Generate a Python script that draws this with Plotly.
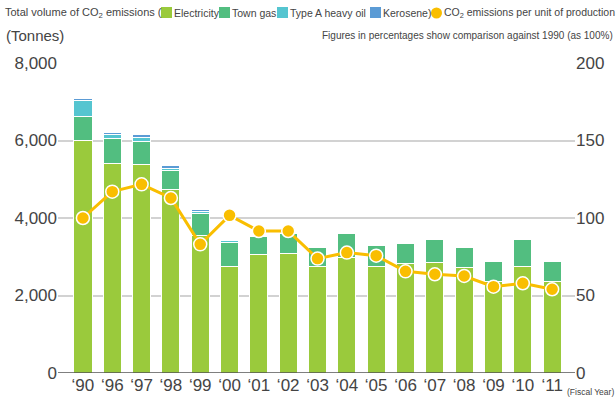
import plotly.graph_objects as go

years = ["‘90", "‘96", "‘97", "‘98", "‘99", "‘00", "‘01", "‘02", "‘03",
         "‘04", "‘05", "‘06", "‘07", "‘08", "‘09", "‘10", "‘11"]
electricity = [6000, 5400, 5370, 4740, 3540, 2740, 3060, 3080, 2760,
               2990, 2750, 2820, 2860, 2720, 2370, 2750, 2370]
town_gas = [620, 640, 610, 490, 580, 640, 470, 520, 490,
            600, 540, 520, 580, 530, 510, 700, 510]
heavy_oil = [410, 110, 100, 60, 60, 30, 10, 0, 0,
             0, 0, 0, 0, 0, 0, 0, 0]
kerosene = [60, 60, 70, 60, 50, 10, 0, 0, 0,
            0, 0, 0, 0, 0, 0, 0, 0]
per_unit = [100, 117, 121.7, 112.9, 83, 101.7, 91.6, 91.6, 73.8,
            77.7, 75.7, 65.6, 63.7, 62.6, 55.7, 57.9, 54]

C_ELEC = "#9aca3c"
C_GAS = "#52be80"
C_OIL = "#55c5d0"
C_KERO = "#5b9bd5"
C_LINE = "#f9be00"

W, H = 616, 403
ML, MR, MT, MB = 58, 41, 63, 30
PW, PH = W - ML - MR, H - MT - MB

def px(x):
    return (x - ML) / PW

def py(y):
    return (H - MB - y) / PH

REG = "Liberation Sans, Arial, sans-serif"
TXT = "#444444"

fig = go.Figure()
for name, vals, col in [("Electricity", electricity, C_ELEC), ("Town gas", town_gas, C_GAS),
                        ("Type A heavy oil", heavy_oil, C_OIL), ("Kerosene", kerosene, C_KERO)]:
    fig.add_trace(go.Bar(x=years, y=vals, name=name, marker=dict(color=col, line=dict(color="white", width=1)),
                         width=0.62, yaxis="y"))

fig.add_trace(go.Scatter(x=years, y=per_unit, mode="lines+markers", yaxis="y2",
                         line=dict(color=C_LINE, width=3),
                         marker=dict(color=C_LINE, size=13, line=dict(color="white", width=1.5)),
                         name="CO2 emissions per unit of production"))

fig.update_layout(
    width=W, height=H,
    margin=dict(l=ML, r=MR, t=MT, b=MB),
    paper_bgcolor="white", plot_bgcolor="white",
    barmode="stack",
    showlegend=False,
    font=dict(family=REG, color=TXT),
    xaxis=dict(range=[-0.85, 16.78], showgrid=False, showline=False, ticks="", automargin=False,
               tickfont=dict(size=17, color=TXT, family=REG), zeroline=False),
    yaxis=dict(range=[0, 8000], dtick=2000, tickformat=",", showgrid=True, gridcolor="#d2d2d2",
               gridwidth=1.5, zeroline=False, showline=False, ticks="", automargin=False,
               tickfont=dict(size=17, color=TXT, family=REG)),
    yaxis2=dict(range=[0, 200], dtick=50, overlaying="y", side="right", showgrid=False,
                zeroline=False, showline=False, ticks="", automargin=False,
                tickfont=dict(size=17, color=TXT, family=REG)),
)

# baseline
fig.add_shape(type="line", xref="paper", yref="y", x0=0, x1=1, y0=0, y1=0,
              line=dict(color="#555555", width=1.5))

ann = []
def text(x, y, s, size, anchor="left"):
    ann.append(dict(x=px(x), y=py(y), xref="paper", yref="paper", text=s, showarrow=False,
                    xanchor=anchor, yanchor="middle", font=dict(size=size, family=REG, color=TXT)))

text(3, 13, "Total volume of CO<sub>2</sub> emissions (", 11)
legend_items = [(161, "Electricity", C_ELEC), (219, "Town gas", C_GAS),
                (277, "Type A heavy oil", C_OIL), (370, "Kerosene)", C_KERO)]
shapes = []
for x0, lab, col in legend_items:
    shapes.append(dict(type="rect", xref="paper", yref="paper", x0=px(x0), x1=px(x0 + 11),
                       y0=py(18), y1=py(7), fillcolor=col, line=dict(width=0)))
    text(x0 + 10.5, 13, lab, 10.5)
shapes.append(dict(type="circle", xref="paper", yref="paper", x0=px(431), x1=px(442),
                   y0=py(18.5), y1=py(7.5), fillcolor=C_LINE, line=dict(width=0)))
text(442, 13, "CO<sub>2</sub> emissions per unit of production", 10.5)
text(4, 35, "(Tonnes)", 15)
text(615, 35, "Figures in percentages show comparison against 1990 (as 100%)", 10, "right")
text(616, 392, "(Fiscal Year)", 8.5, "right")

for s in shapes:
    fig.add_shape(**s)
fig.update_layout(annotations=ann)

fig.write_html("out.html", config={"displayModeBar": False},
               post_script="document.body.style.margin='0';document.body.style.padding='0';")
